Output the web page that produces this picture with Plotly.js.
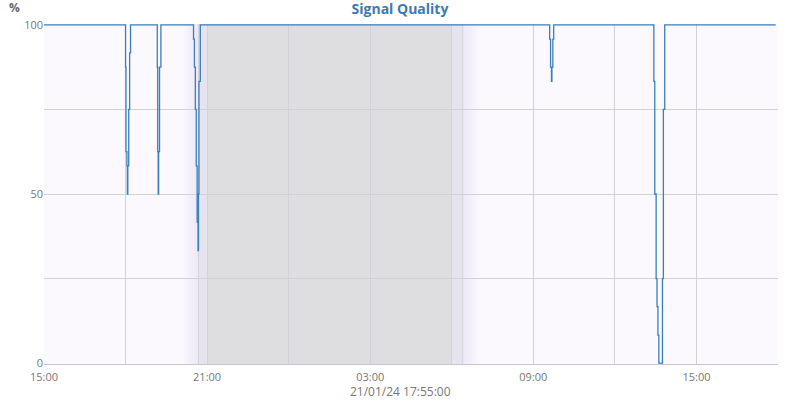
<!DOCTYPE html>
<html>
<head>
<meta charset="utf-8">
<script src="https://cdn.plot.ly/plotly-3.0.1.min.js"></script>
<style>html,body{margin:0;padding:0;background:#fff;}#chart{width:800px;height:400px;}</style>
</head>
<body>
<div id="chart"></div>
<script>
// ---- data ----
var times = [
  '2024-01-20 15:00',
  '2024-01-20 18:00','2024-01-20 18:01','2024-01-20 18:03','2024-01-20 18:04','2024-01-20 18:05','2024-01-20 18:07','2024-01-20 18:09','2024-01-20 18:11',
  '2024-01-20 19:10','2024-01-20 19:11','2024-01-20 19:12','2024-01-20 19:13','2024-01-20 19:15','2024-01-20 19:18',
  '2024-01-20 20:30','2024-01-20 20:32','2024-01-20 20:34','2024-01-20 20:36','2024-01-20 20:38','2024-01-20 20:40','2024-01-20 20:41','2024-01-20 20:42','2024-01-20 20:45',
  '2024-01-21 09:36','2024-01-21 09:38','2024-01-21 09:40','2024-01-21 09:41','2024-01-21 09:43','2024-01-21 09:45',
  '2024-01-21 13:26','2024-01-21 13:28','2024-01-21 13:31','2024-01-21 13:33','2024-01-21 13:35','2024-01-21 13:37','2024-01-21 13:45','2024-01-21 13:47','2024-01-21 13:50',
  '2024-01-21 17:55'
];
var quality = [
  100,
  87.5, 62.5, 58.3, 50, 58.3, 75, 91.7, 100,
  87.5, 62.5, 50, 62.5, 87.5, 100,
  95.8, 87.5, 75, 58.3, 41.7, 33.3, 50, 83.3, 100,
  95.8, 87.5, 83.3, 87.5, 95.8, 100,
  83.3, 50, 25, 16.7, 8.3, 0, 25, 75, 100,
  100
];
var xRange = ['2024-01-20 15:00', '2024-01-21 18:00'];
var xTick0 = '2024-01-20 15:00';
var yTickVals = [0, 25, 50, 75, 100];
var yTickText = ['0', '', '50', '', '100'];
// night / twilight periods
var nightStart = '2024-01-20 21:00', nightEnd = '2024-01-21 06:00';
var twilightStart = '2024-01-20 20:41', twilightEnd = '2024-01-21 06:24';
var fadeStart = '2024-01-20 20:05', fadeEnd = '2024-01-21 07:00';
var titleText = 'Signal Quality';
var unitText = '%';
var xLabel = '21/01/24 17:55:00';

// ---- shapes (styling) ----
function ms(s){ return new Date(s.replace(' ','T')+':00Z').getTime(); }
function iso(t){ var d = new Date(t); return d.toISOString().replace('T',' ').slice(0,19); }
var shapes = [];
var N = 10;
function fade(a, b, reverse){
  var A = ms(a), B = ms(b);
  for (var i = 0; i < N; i++){
    var f = (i + 0.5) / N;
    var op = reverse ? (1 - f) : f;
    shapes.push({type:'rect', layer:'below', xref:'x', yref:'paper',
      x0: iso(A + (B-A)*i/N), x1: iso(A + (B-A)*(i+1)/N), y0:0, y1:1,
      fillcolor:'#e8e3f4', opacity: op*0.85, line:{width:0}});
  }
}
fade(fadeStart, twilightStart, false);
fade(twilightEnd, fadeEnd, true);
shapes.push({type:'rect', layer:'below', xref:'x', yref:'paper', x0:twilightStart, x1:nightStart, y0:0, y1:1, fillcolor:'#e4e3ee', line:{width:0}});
shapes.push({type:'rect', layer:'below', xref:'x', yref:'paper', x0:nightEnd, x1:twilightEnd, y0:0, y1:1, fillcolor:'#e4e3ee', line:{width:0}});
shapes.push({type:'rect', layer:'below', xref:'x', yref:'paper', x0:nightStart, x1:nightEnd, y0:0, y1:1, fillcolor:'#dedde0', line:{width:0}});
shapes.push({type:'line', layer:'below', xref:'x', yref:'paper', x0:twilightStart, x1:twilightStart, y0:0, y1:1, line:{color:'#d8d2da', width:1}});
shapes.push({type:'line', layer:'below', xref:'x', yref:'paper', x0:twilightEnd, x1:twilightEnd, y0:0, y1:1, line:{color:'#d8d2da', width:1}});

var trace = {
  x: times, y: quality, type:'scatter', mode:'lines',
  line:{shape:'hv', color:'#3a7fb9', width:1.3},
  hoverinfo:'x+y', showlegend:false
};

var gridColor = '#d2d2d6';
var layout = {
  width:800, height:400,
  margin:{l:44, r:22, t:24, b:36},
  paper_bgcolor:'#ffffff',
  plot_bgcolor:'#fbf9fe',
  font:{family:'"Open Sans", sans-serif', color:'#777', size:11},
  title:{text:'<b>'+titleText+'</b>', xref:'container', x:0.5, xanchor:'center', yref:'container', y:0.977, yanchor:'middle',
         font:{family:'"Open Sans", sans-serif', size:14, color:'#3c7ab4'}},
  xaxis:{
    type:'date', range:xRange, tick0:xTick0, dtick:6*3600*1000, tickformat:'%H:%M',
    showgrid:true, gridcolor:gridColor, gridwidth:1,
    minor:{dtick:3*3600*1000, tick0:xTick0, showgrid:true, gridcolor:gridColor, gridwidth:1},
    showline:true, linecolor:'#c8c8cc', linewidth:1,
    zeroline:false, ticks:'', tickfont:{size:11, color:'#777'}, ticklen:0, ticklabelstandoff:3,
    fixedrange:true
  },
  yaxis:{
    range:[-0.25, 100.25], tickvals:yTickVals, ticktext:yTickText,
    showgrid:true, gridcolor:gridColor, gridwidth:1, zeroline:false,
    showline:false, ticks:'', tickfont:{size:11, color:'#777'}, fixedrange:true
  },
  shapes: shapes,
  annotations:[
    {text:'<b>'+unitText+'</b>', xref:'paper', yref:'paper', x:-0.04, y:1.048, xanchor:'center', yanchor:'middle', showarrow:false,
     font:{size:12, color:'#666'}},
    {text:xLabel, xref:'paper', yref:'paper', x:(400-44)/734, y:-0.082, xanchor:'center', yanchor:'middle', showarrow:false,
     font:{size:12, color:'#777'}}
  ]
};

Plotly.newPlot('chart', [trace], layout, {displayModeBar:false, staticPlot:true});
</script>
</body>
</html>
